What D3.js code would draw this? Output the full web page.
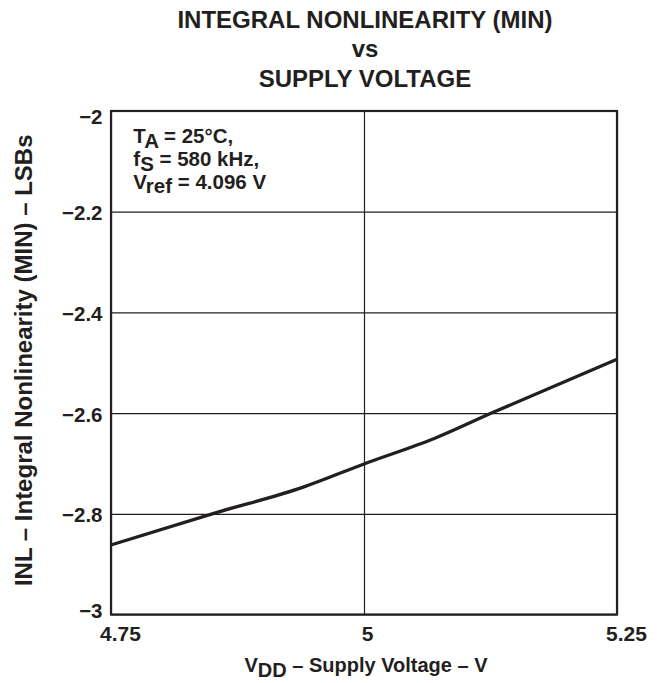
<!DOCTYPE html>
<html>
<head>
<meta charset="utf-8">
<script src="https://cdn.jsdelivr.net/npm/d3@7"></script>
<style>
  html, body { margin: 0; padding: 0; background: #fff; }
  svg { display: block; }
  text { font-family: "Liberation Sans", Arial, Helvetica, sans-serif; font-weight: bold; fill: #231f20; }
</style>
</head>
<body>
<svg id="chart" width="664" height="683"></svg>
<script>
// ---- data ----
const titleLines = ["INTEGRAL NONLINEARITY (MIN)", "vs", "SUPPLY VOLTAGE"];
const supplyVoltage = [4.75, 4.85, 4.94, 5.0, 5.07, 5.126, 5.25];
const inlMin = [-2.862, -2.80, -2.747, -2.701, -2.650, -2.60, -2.493];
const xTicks = [4.75, 5, 5.25];
const xTickLabels = ["4.75", "5", "5.25"];
const yTicks = [-3, -2.8, -2.6, -2.4, -2.2, -2];
const yTickLabels = ["\u22123", "\u22122.8", "\u22122.6", "\u22122.4", "\u22122.2", "\u22122"];

const ink = "#231f20";
const svg = d3.select("#chart");
const L = 111, R = 617, T = 111, B = 614.5;

const x = d3.scaleLinear().domain([4.75, 5.25]).range([L, R]);
const y = d3.scaleLinear().domain([-3, -2]).range([B, T]);

// title
svg.append("g").selectAll("text").data(titleLines).join("text")
  .attr("x", 365).attr("y", (d, i) => [27.7, 56.7, 86.7][i])
  .attr("text-anchor", "middle").style("font-size", "24px").text(d => d);

// grid lines
const gx = svg.append("g").attr("transform", `translate(0,${B})`)
  .call(d3.axisBottom(x).tickValues(xTicks).tickSize(-(B - T)).tickFormat(""));
gx.select(".domain").remove();
gx.selectAll("line").attr("stroke", ink).attr("stroke-width", 1.2);

const gy = svg.append("g").attr("transform", `translate(${L},0)`)
  .call(d3.axisLeft(y).tickValues(yTicks).tickSize(-(R - L)).tickFormat(""));
gy.select(".domain").remove();
gy.selectAll("line").attr("stroke", ink).attr("stroke-width", 1.2);

// frame
svg.append("rect").attr("x", L).attr("y", T).attr("width", R - L).attr("height", B - T)
  .attr("fill", "none").attr("stroke", ink).attr("stroke-width", 2.2);

// tick labels via axes
const ax = svg.append("g").attr("transform", `translate(0,${B})`)
  .call(d3.axisBottom(x).tickValues(xTicks).tickSize(0).tickPadding(12)
    .tickFormat((d, i) => xTickLabels[i]));
ax.select(".domain").remove();
ax.selectAll("text").attr("fill", ink).style("font-size", "21px")
  .style("font-family", "'Liberation Sans', Arial, sans-serif").style("font-weight", "bold")
  .attr("dx", (d, i) => [9, 3, 9][i]);

const ay = svg.append("g").attr("transform", `translate(${L},0)`)
  .call(d3.axisLeft(y).tickValues(yTicks).tickSize(0).tickPadding(8.5)
    .tickFormat((d, i) => yTickLabels[i]));
ay.select(".domain").remove();
ay.selectAll("text").attr("fill", ink).style("font-size", "20.5px")
  .style("font-family", "'Liberation Sans', Arial, sans-serif").style("font-weight", "bold")
  .attr("dy", (d, i) => (i === 0 ? -4 : i === yTicks.length - 1 ? 5 : 1) + 7);

// curve
const pts = supplyVoltage.map((v, i) => [v, inlMin[i]]);
svg.append("path").datum(pts)
  .attr("d", d3.line().x(d => x(d[0])).y(d => y(d[1])).curve(d3.curveMonotoneX))
  .attr("fill", "none").attr("stroke", ink).attr("stroke-width", 3.3);

// annotation
const ann = [["T", "A", " = 25\u00B0C,"], ["f", "S", " = 580 kHz,"], ["V", "ref", " = 4.096 V"]];
const annY = [143.3, 166, 188.5];
ann.forEach((a, i) => {
  const t = svg.append("text").attr("x", 133.3).attr("y", annY[i]).style("font-size", "20.5px");
  t.append("tspan").text(a[0]);
  t.append("tspan").attr("dy", 4.5).text(a[1]);
  t.append("tspan").attr("dy", -4.5).text(a[2]);
});

// x axis title
const xt = svg.append("text").attr("x", 366).attr("y", 672).attr("text-anchor", "middle").style("font-size", "20px");
xt.append("tspan").text("V");
xt.append("tspan").attr("dy", 4.5).text("DD");
xt.append("tspan").attr("dy", -4.5).text(" \u2013 Supply Voltage \u2013 V");

// y axis title
svg.append("text").attr("transform", "translate(31.7,360.3) rotate(-90)")
  .attr("text-anchor", "middle").style("font-size", "24px")
  .text("INL \u2013 Integral Nonlinearity (MIN) \u2013 LSBs");
</script>
</body>
</html>
